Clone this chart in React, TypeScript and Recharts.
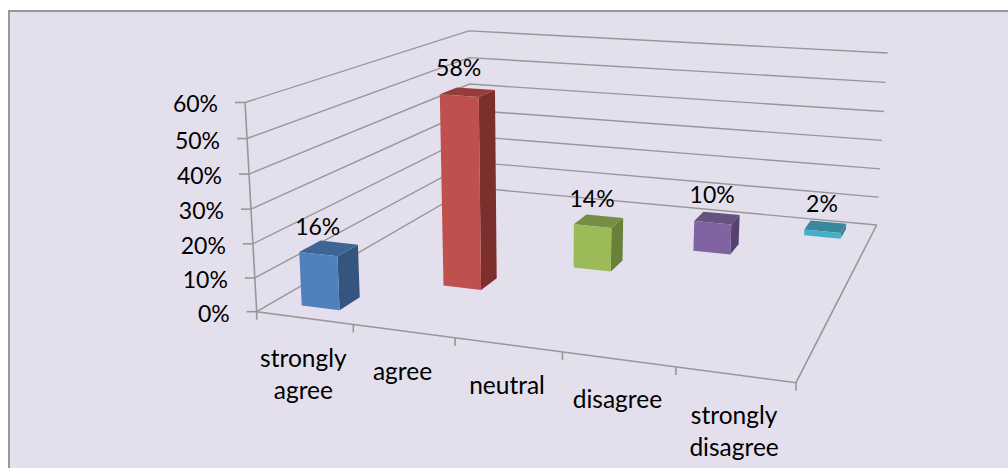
import { BarChart, Bar, XAxis, YAxis, ReferenceLine, LabelList } from "recharts";

const categories = ["strongly agree", "agree", "neutral", "disagree", "strongly disagree"];
const values = [16, 58, 14, 10, 2];
const yTicks = [0, 10, 20, 30, 40, 50, 60];

const frontColors = ["#4F81BD", "#C0504D", "#9BBB59", "#8064A2", "#45AFCA"];
const sideColors = ["#34557F", "#7D2F2D", "#68803A", "#56426F", "#36849A"];
const topColors = ["#3E6595", "#963C3A", "#768E44", "#66517F", "#38889E"];

const data = categories.map((name, i) => ({ name, value: values[i] }));

const WIDTH = 1008;
const HEIGHT = 468;
const FONT = "Lato, Carlito, sans-serif";
const GREY = "#979797";
const YMAX = 60;

// plot rect = the front of the 3d box
const LEFT = 256.7;
const RIGHT = 796;
const TOP = 101.7;
const BOTTOM = 311.7;

// floor corners on screen, used to get the perspective
const [x0, y0] = [LEFT, BOTTOM];
const [x1, y1] = [RIGHT, 382.7];
const [x2, y2] = [876.7, 225];
const [x3, y3] = [471, 187.4];

const den = (x1 - x2) * (y3 - y2) - (x3 - x2) * (y1 - y2);
const sx = x0 - x1 + x2 - x3;
const sy = y0 - y1 + y2 - y3;
const g = (sx * (y3 - y2) - (x3 - x2) * sy) / den;
const h = ((x1 - x2) * sy - sx * (y1 - y2)) / den;
// verticals meet far below the chart
const VX = 544;
const VY = 5467;
const I = -0.039;

// u along categories, w into depth, v up the value axis (all 0..1)
function project(u: number, w: number, v: number) {
  const d = 1 + g * u + h * w + I * v;
  const px = x0 + (x1 - x0 + g * x1) * u + (x3 - x0 + h * x3) * w + I * VX * v;
  const py = y0 + (y1 - y0 + g * y1) * u + (y3 - y0 + h * y3) * w + I * VY * v;
  return { x: px / d, y: py / d };
}

const toU = (x: number) => (x - LEFT) / (RIGHT - LEFT);
const toV = (y: number) => (BOTTOM - y) / (BOTTOM - TOP);
const pts = (list: { x: number; y: number }[]) => list.map((p) => `${p.x},${p.y}`).join(" ");

function WallLine(props: any) {
  const v = toV(props.y1 ?? props.y);
  return (
    <polyline
      points={pts([project(0, 0, v), project(0, 1, v), project(1, 1, v)])}
      fill="none"
      stroke={GREY}
      strokeWidth={1.4}
    />
  );
}

// floor line: same as the walls plus the front and right edges and the value axis
function FloorLine(props: any) {
  return (
    <g>
      <WallLine {...props} />
      <polyline
        points={pts([project(0, 0, 1), project(0, 0, 0), project(1, 0, 0), project(1, 1, 0)])}
        fill="none"
        stroke={GREY}
        strokeWidth={1.6}
      />
    </g>
  );
}

function Box(props: any) {
  const { x, y, width, height, index } = props;
  const u0 = toU(x);
  const u1 = toU(x + width);
  const vt = toV(y);
  const vb = toV(y + height);
  // every column has its own row in depth, so w follows u
  const fb = project(u0, u0, vb);
  const rb = project(u1, u0, vb);
  const rbb = project(u1, u1, vb);
  const ft = project(u0, u0, vt);
  const rt = project(u1, u0, vt);
  const bt = project(u1, u1, vt);
  const lt = project(u0, u1, vt);
  return (
    <g>
      <polygon points={pts([rb, rbb, bt, rt])} fill={sideColors[index]} />
      <polygon points={pts([ft, rt, bt, lt])} fill={topColors[index]} />
      <polygon points={pts([fb, rb, rt, ft])} fill={frontColors[index]} />
    </g>
  );
}

function BarLabel(props: any) {
  const { x, y, width, value } = props;
  const u = toU(x);
  const p = project(toU(x + width / 2), u, toV(y));
  return (
    <text x={p.x - 0.5} y={p.y - 28.5} textAnchor="middle" dominantBaseline="central" fontSize={23} fontFamily={FONT} fill="#000">
      {value}%
    </text>
  );
}

function ValueTick(props: any) {
  const { payload } = props;
  const p = project(0, 0, payload.value / YMAX);
  return (
    <g>
      <line x1={p.x - 10} y1={p.y} x2={p.x} y2={p.y} stroke={GREY} strokeWidth={1.6} />
      <text x={p.x - 27} y={p.y + 1} textAnchor="end" dominantBaseline="central" fontSize={23} fontFamily={FONT} fill="#000">
        {payload.value}%
      </text>
    </g>
  );
}

function CategoryTick(props: any) {
  const { x, payload, index } = props;
  const step = 1 / categories.length;
  const u = toU(x);
  const mid = project(u, 0, 0);
  const left = project(u - step / 2, 0, 0);
  const right = project(u + step / 2, 0, 0);
  const words = String(payload.value).split(" ");
  return (
    <g>
      <line x1={left.x} y1={left.y} x2={left.x} y2={left.y + 8} stroke={GREY} strokeWidth={1.6} />
      {index === categories.length - 1 && (
        <line x1={right.x} y1={right.y} x2={right.x} y2={right.y + 8} stroke={GREY} strokeWidth={1.6} />
      )}
      {words.map((word, i) => (
        <text
          key={word}
          x={mid.x - 1}
          y={mid.y + 39.5 + i * 32.5}
          textAnchor="middle"
          dominantBaseline="central"
          fontSize={24.5}
          fontFamily={FONT}
          fill="#000"
        >
          {word}
        </text>
      ))}
    </g>
  );
}

export default function App() {
  return (
    <div style={{ position: "absolute", left: 0, top: 0, width: WIDTH, height: HEIGHT, overflow: "hidden", background: "#fff" }}>
      <div
        style={{
          position: "absolute",
          left: 8,
          top: 10,
          width: WIDTH + 20,
          height: HEIGHT + 20,
          background: "#E4DFEC",
          border: "2px solid #989898",
        }}
      />
      <div style={{ position: "absolute", left: 0, top: 0 }}>
        <BarChart
          width={WIDTH}
          height={HEIGHT}
          data={data}
          barCategoryGap="30%"
          margin={{ top: TOP, right: WIDTH - RIGHT, left: LEFT - 60, bottom: HEIGHT - BOTTOM - 60 }}
        >
          <XAxis dataKey="name" height={60} axisLine={false} tickLine={false} interval={0} tick={<CategoryTick />} />
          <YAxis width={60} domain={[0, YMAX]} ticks={yTicks} axisLine={false} tickLine={false} interval={0} tick={<ValueTick />} />
          {yTicks.map((t) => (
            <ReferenceLine key={t} y={t} zIndex={-50} shape={t === 0 ? FloorLine : WallLine} />
          ))}
          <Bar dataKey="value" shape={Box} isAnimationActive={false}>
            <LabelList dataKey="value" content={BarLabel} />
          </Bar>
        </BarChart>
      </div>
    </div>
  );
}
